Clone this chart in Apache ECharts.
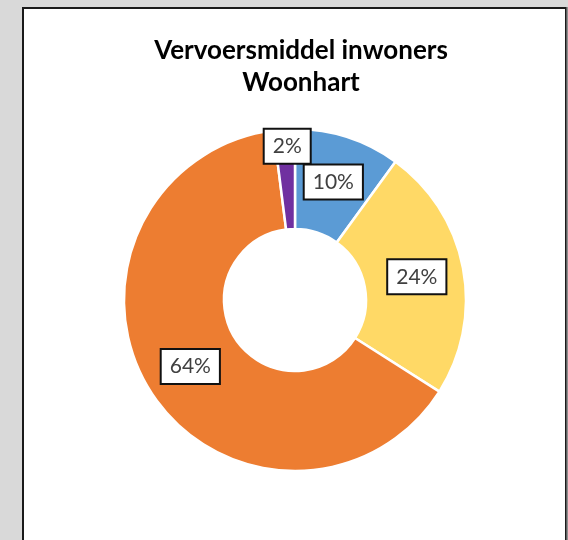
<!DOCTYPE html>
<html>
<head>
<meta charset="utf-8">
<script src="https://cdn.jsdelivr.net/npm/echarts@6/dist/echarts.min.js"></script>
<style>
  html, body { margin: 0; padding: 0; background: #d9d9d9; }
  #chart { width: 568px; height: 540px; }
</style>
</head>
<body>
<div id="chart"></div>
<script>
// vervoersmiddel shares (percent)
const categories = ["Fiets", "Openbaar vervoer", "Auto", "Overig"];
const shares = [10, 24, 64, 2];
const colors = ["#5b9bd5", "#ffd966", "#ed7d31", "#7030a0"];

const chart = echarts.init(document.getElementById("chart"));

chart.setOption({
  backgroundColor: "#d9d9d9",
  animation: false,
  title: {
    text: "Vervoersmiddel inwoners\nWoonhart",
    left: 296,
    top: 30,
    textAlign: "center",
    textStyle: {
      fontFamily: "Lato",
      fontWeight: "bold",
      fontSize: 26,
      lineHeight: 32,
      color: "#000",
    },
  },
  graphic: [
    {
      type: "rect",
      z: -10,
      shape: { x: 23, y: 8, width: 543, height: 540 },
      style: { fill: "#fff", stroke: "#1a1a1a", lineWidth: 2 },
    },
    {
      type: "line",
      z: -9,
      shape: { x1: 567, y1: 7, x2: 567, y2: 540 },
      style: { stroke: "#777", lineWidth: 1.5 },
    },
  ],
  color: colors,
  series: [
    {
      type: "pie",
      center: [295, 300],
      radius: [71, 171],
      startAngle: 90,
      clockwise: true,
      avoidLabelOverlap: false,
      itemStyle: { borderColor: "#fff", borderWidth: 2.5 },
      label: {
        show: true,
        position: "inside",
        formatter: "{c}%",
        fontFamily: "Lato",
        fontSize: 21,
        color: "#404040",
        backgroundColor: "#fff",
        borderColor: "#111",
        borderWidth: 2,
        padding: [7, 8, 5, 8],
      },
      labelLine: { show: false },
      labelLayout: function (p) {
        return p.dataIndex === 3 ? { dy: -30 } : {};
      },
      emphasis: { disabled: true },
      data: categories.map((name, i) => ({ name: name, value: shares[i] })),
    },
  ],
});
</script>
</body>
</html>
